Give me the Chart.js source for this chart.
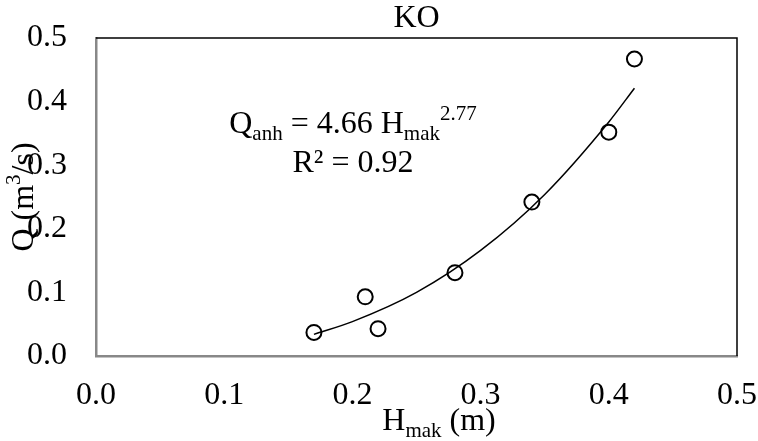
<!DOCTYPE html>
<html>
<head>
<meta charset="utf-8">
<script src="https://cdn.jsdelivr.net/npm/chart.js@4/dist/chart.umd.min.js"></script>
<style>
  html, body { margin: 0; padding: 0; background: #fff; }
  canvas { display: block; }
</style>
</head>
<body>
<canvas id="chart" width="758" height="441"></canvas>
<script>
// observed points, H_mak (m) vs Q (m3/s)
const hMak = [0.17, 0.21, 0.22, 0.28, 0.34, 0.40, 0.42];
const qObs = [0.037, 0.093, 0.043, 0.131, 0.242, 0.352, 0.467];

// power trend line
const trendH = [0.17, 0.20, 0.25, 0.30, 0.35, 0.40, 0.42];
const trendQ = [0.034, 0.054, 0.100, 0.166, 0.254, 0.368, 0.421];

const tickVals = [0, 0.1, 0.2, 0.3, 0.4, 0.5];

const FONT = "'Liberation Serif', 'Times New Roman', serif";
const BIG = 32;
const SMALL = 21;

const toPts = (xs, ys) => xs.map((x, i) => ({ x: x, y: ys[i] }));

// draws a list of [text, kind] runs, kind = "n" | "sub" | "sup"
function drawRuns(ctx, runs, x, y, align) {
  const widths = runs.map(r => {
    ctx.font = (r[1] === "n" ? BIG : SMALL) + "px " + FONT;
    return ctx.measureText(r[0]).width;
  });
  const total = widths.reduce((a, b) => a + b, 0);
  let cx = align === "center" ? x - total / 2 : x;
  ctx.textAlign = "left";
  ctx.textBaseline = "alphabetic";
  runs.forEach((r, i) => {
    ctx.font = (r[1] === "n" ? BIG : SMALL) + "px " + FONT;
    let dy = 0;
    if (r[1] === "sub") dy = 7;
    if (r[1] === "sup") dy = -13;
    ctx.fillText(r[0], cx, y + dy);
    cx += widths[i];
  });
}

const labelsPlugin = {
  id: "labels",
  afterDraw(chart) {
    const ctx = chart.ctx;
    const a = chart.chartArea;
    ctx.save();
    // top and right frame
    ctx.strokeStyle = "#000";
    ctx.lineWidth = 1.5;
    ctx.beginPath();
    ctx.moveTo(a.left, a.top);
    ctx.lineTo(a.right, a.top);
    ctx.lineTo(a.right, a.bottom);
    ctx.stroke();

    ctx.fillStyle = "#000";
    // title
    drawRuns(ctx, [["KO", "n"]], (a.left + a.right) / 2, 27, "center");
    // equation
    drawRuns(ctx, [["Q", "n"], ["anh", "sub"], [" = 4.66 H", "n"], ["mak", "sub"], ["2.77", "sup"]], 353, 133, "center");
    drawRuns(ctx, [["R² = 0.92", "n"]], 353, 172, "center");
    // x title
    drawRuns(ctx, [["H", "n"], ["mak", "sub"], [" (m)", "n"]], 439, 430, "center");
    // y title
    ctx.translate(33, (a.top + a.bottom) / 2);
    ctx.rotate(-Math.PI / 2);
    drawRuns(ctx, [["Q (m", "n"], ["3", "sup"], ["/s)", "n"]], 0, 0, "center");
    ctx.restore();
  }
};

const axisOpts = (isX) => ({
  type: "linear",
  min: 0,
  max: 0.5,
  afterBuildTicks: s => { s.ticks = tickVals.map(v => ({ value: v })); },
  afterFit: s => {
    if (isX) s.height = 85; else s.width = 96;
    s.paddingLeft = 0; s.paddingRight = 0;
    s.paddingTop = 0; s.paddingBottom = 0;
  },
  grid: { display: false, drawTicks: false },
  border: { display: true, color: "#888", width: 2.5 },
  ticks: {
    color: "#000",
    font: { family: FONT, size: BIG },
    padding: isX ? 20 : 29,
    callback: v => Number(v).toFixed(1)
  }
});

new Chart(document.getElementById("chart"), {
  type: "scatter",
  data: {
    datasets: [
      {
        label: "trend",
        data: toPts(trendH, trendQ),
        showLine: true,
        borderColor: "#000",
        borderWidth: 1.5,
        pointRadius: 0,
        cubicInterpolationMode: "monotone",
        order: 2
      },
      {
        label: "Q",
        data: toPts(hMak, qObs),
        pointStyle: "circle",
        pointRadius: 7.5,
        pointBorderWidth: 2,
        pointBorderColor: "#000",
        pointBackgroundColor: "rgba(255,255,255,0)",
        order: 1
      }
    ]
  },
  options: {
    responsive: false,
    animation: false,
    devicePixelRatio: 1,
    layout: { padding: { left: 0, top: 38, right: 21, bottom: 0 } },
    plugins: {
      legend: { display: false },
      title: { display: false },
      tooltip: { enabled: false }
    },
    scales: {
      x: axisOpts(true),
      y: axisOpts(false)
    }
  },
  plugins: [labelsPlugin]
});
</script>
</body>
</html>
